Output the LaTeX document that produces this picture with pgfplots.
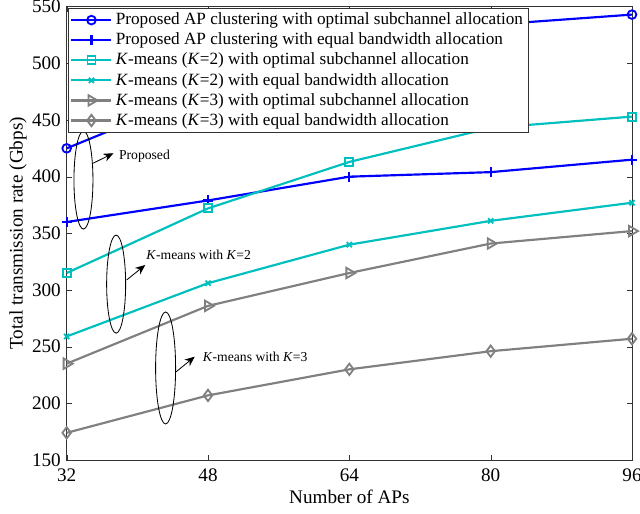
\documentclass[border=0pt]{standalone}
\usepackage{fontspec}
\setmainfont{Liberation Serif}
\usepackage{pgfplots}
\pgfplotsset{compat=1.18}
\usetikzlibrary{arrows.meta,calc}

\definecolor{mblue}{rgb}{0,0,1}
\definecolor{mcyan}{rgb}{0,0.75,0.75}
\definecolor{mgray}{rgb}{0.5,0.5,0.5}

\begin{document}
\begin{tikzpicture}
\begin{axis}[
    name=ax,
    scale only axis,
    width=339.2pt,
    height=272pt,
    xmin=32, xmax=96,
    ymin=150, ymax=550,
    xtick={32,48,64,80,96},
    ytick={150,200,...,550},
    tick align=inside,
    major tick length=3pt,
    axis line style={black!80},
    tick style={black!80},
    xlabel={Number of APs},
    ylabel={Total transmission rate (Gbps)},
    xlabel style={font=\fontsize{11.5}{13}\selectfont, at={(axis description cs:0.5,-0.0816)}, anchor=center},
    ylabel style={font=\fontsize{11.5}{13}\selectfont, at={(axis description cs:-0.086,0.5)}, anchor=center},
    tick label style={font=\fontsize{11.5}{13}\selectfont},
    xticklabel style={yshift=-1.5pt},
    /pgf/number format/assume math mode=true,
    clip=false,
    every axis plot/.append style={line width=1.3pt},
    legend style={at={(0.003,0.998)}, anchor=north west,
        font=\fontsize{10.3}{11.7}\selectfont, draw=black!80,
        inner sep=1pt, row sep=-0.6pt, cells={anchor=west}},
    legend image code/.code={\draw[mark repeat=2,mark phase=2] plot coordinates {(0pt,0pt) (12pt,0pt) (24pt,0pt)};},
]

\addplot[color=mblue, mark=o, mark size=2.6pt, mark options={solid, line width=1.1pt}] coordinates {
    (32,425) (48,476) (64,511) (80,534) (96,543)
};
\addlegendentry{Proposed AP clustering with optimal subchannel allocation}

\addplot[color=mblue, mark=+, mark size=3pt, mark options={solid, line width=1.3pt}] coordinates {
    (32,360) (48,379) (64,400) (80,404) (96,415)
};
\addlegendentry{Proposed AP clustering with equal bandwidth allocation}

\addplot[color=mcyan, mark=square, mark size=2.4pt, mark options={solid, line width=1.1pt}] coordinates {
    (32,315) (48,372) (64,413) (80,443) (96,453)
};
\addlegendentry{\textit{K}-means (\textit{K}=2) with optimal subchannel allocation}

\addplot[color=mcyan, mark=x, mark size=2.2pt, mark options={solid, line width=1.1pt}] coordinates {
    (32,259) (48,306) (64,340) (80,361) (96,377)
};
\addlegendentry{\textit{K}-means (\textit{K}=2) with equal bandwidth allocation}

\addplot[color=mgray, mark=triangle, mark size=3.6pt, mark options={solid, line width=1.1pt, rotate=-90}] coordinates {
    (32,235) (48,286) (64,315) (80,341) (96,352)
};
\addlegendentry{\textit{K}-means (\textit{K}=3) with optimal subchannel allocation}

\addplot[color=mgray, mark=diamond, mark size=3.4pt, mark options={solid, line width=1.1pt}] coordinates {
    (32,174) (48,207) (64,230) (80,246) (96,257)
};
\addlegendentry{\textit{K}-means (\textit{K}=3) with equal bandwidth allocation}

% annotations
\draw[black, line width=0.5pt] (axis cs:33.9,397) ellipse [x radius=5.7pt, y radius=29.4pt];
\draw[black, line width=0.5pt, -{Stealth[length=6pt, width=5pt]}] (axis cs:35.0,411.9) -- (axis cs:37.3,420.7);
\node[anchor=west, font=\fontsize{8.2}{9}\selectfont, inner sep=1pt] at (axis cs:37.7,418) {Proposed};

\draw[black, line width=0.5pt] (axis cs:37.6,305.2) ellipse [x radius=5.7pt, y radius=29.4pt];
\draw[black, line width=0.5pt, -{Stealth[length=6pt, width=5pt]}] (axis cs:38.8,308.9) -- (axis cs:40.9,322.1);
\node[anchor=west, font=\fontsize{8.2}{9}\selectfont, inner sep=1pt] at (axis cs:40.8,331) {\textit{K}-means with \textit{K}=2};

\draw[black, line width=0.5pt] (axis cs:43.2,231.2) ellipse [x radius=6pt, y radius=33.6pt];
\draw[black, line width=0.5pt, -{Stealth[length=6pt, width=5pt]}] (axis cs:44.4,227.9) -- (axis cs:46.5,241.2);
\node[anchor=west, font=\fontsize{8.2}{9}\selectfont, inner sep=1pt] at (axis cs:47.2,241) {\textit{K}-means with \textit{K}=3};

\end{axis}
\pgfresetboundingbox
\path ($(ax.south west)+(-40pt,-31.8pt)$) rectangle ($(ax.north east)+(4.8pt,4pt)$);
\end{tikzpicture}
\end{document}
